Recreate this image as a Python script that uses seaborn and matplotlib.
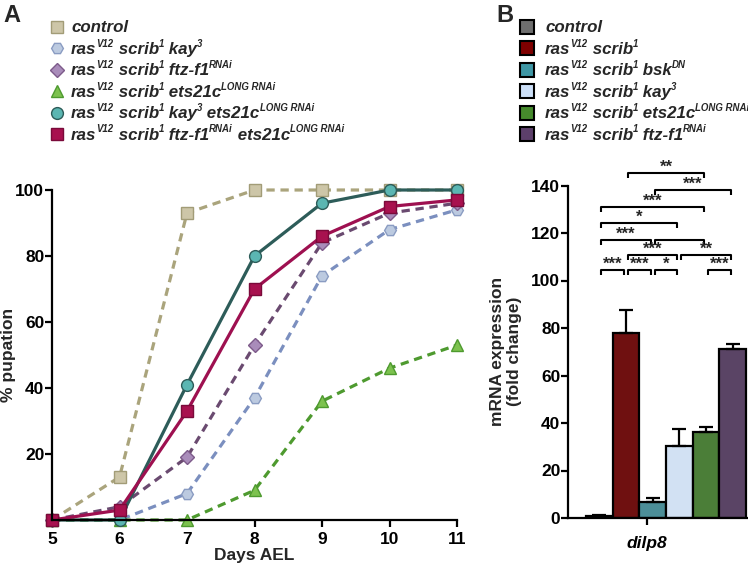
import re
import numpy as np
import pandas as pd
import matplotlib
matplotlib.use("Agg")
import matplotlib.pyplot as plt
from matplotlib.lines import Line2D
import seaborn as sns

# ── Data ───────────────────────────────────────────────────────────────────
days = [5, 6, 7, 8, 9, 10, 11]
pup_control = [0, 13, 93, 100, 100, 100, 100]
pup_kay = [0, 0, 8, 37, 74, 88, 94]
pup_ftz = [0, 4, 19, 53, 84, 93, 96]
pup_ets = [0, 0, 0, 9, 36, 46, 53]
pup_kay_ets = [0, 0, 41, 80, 96, 100, 100]
pup_ftz_ets = [0, 3, 33, 70, 86, 95, 97]

# ^{...} marks a superscript
labels_a = [
    "control",
    "ras^{V12} scrib^{1} kay^{3}",
    "ras^{V12} scrib^{1} ftz-f1^{RNAi}",
    "ras^{V12} scrib^{1} ets21c^{LONG RNAi}",
    "ras^{V12} scrib^{1} kay^{3} ets21c^{LONG RNAi}",
    "ras^{V12} scrib^{1} ftz-f1^{RNAi} ets21c^{LONG RNAi}",
]

genotypes_b = [
    "control",
    "ras^{V12} scrib^{1}",
    "ras^{V12} scrib^{1} bsk^{DN}",
    "ras^{V12} scrib^{1} kay^{3}",
    "ras^{V12} scrib^{1} ets21c^{LONG RNAi}",
    "ras^{V12} scrib^{1} ftz-f1^{RNAi}",
]
dilp8 = [0.9, 78.0, 6.9, 30.4, 36.1, 71.1]
dilp8_sem = [0.2, 9.6, 1.5, 6.9, 2.2, 2.1]

# (left bar, right bar, bracket height, stars)
sig_pairs = [
    (1, 4, 145.3, "**"),
    (2, 5, 138.1, "***"),
    (0, 4, 131.0, "***"),
    (0, 3, 124.2, "*"),
    (0, 2, 117.0, "***"),
    (2, 4, 117.0, ""),
    (1, 3, 110.7, "***"),
    (3, 5, 110.7, "**"),
    (0, 1, 104.4, "***"),
    (1, 2, 104.4, "***"),
    (2, 3, 104.4, "*"),
    (4, 5, 104.4, "***"),
]

# ── Styles ─────────────────────────────────────────────────────────────────
sns.set_style("ticks")
plt.rcParams["font.family"] = ["Liberation Sans", "DejaVu Sans"]
plt.rcParams["font.weight"] = "bold"
plt.rcParams["axes.labelweight"] = "bold"

dash = (0, (2.6, 1.8))
series_a = [
    (pup_control, dict(color="#aaa47c", ls=dash, marker="s", mfc="#cdc6a8", mec="#a29c77")),
    (pup_kay, dict(color="#7b8fbf", ls=dash, marker="H", mfc="#bccae0", mec="#8a9cc2")),
    (pup_ftz, dict(color="#6a4a70", ls=dash, marker="D", mfc="#a98cba", mec="#7d5a8a")),
    (pup_ets, dict(color="#4e9a2f", ls=dash, marker="^", mfc="#7dc24f", mec="#4e9a2f")),
    (pup_kay_ets, dict(color="#2d5c59", ls="-", marker="o", mfc="#5bb6b2", mec="#2d5c59")),
    (pup_ftz_ets, dict(color="#9e1050", ls="-", marker="s", mfc="#a8114f", mec="#7a0a3a")),
]
bar_colors = ["#6e6e6e", "#7f0000", "#3f97a5", "#cde0f8", "#468a2c", "#5c3f6a"]

fig = plt.figure(figsize=(7.48, 5.68), dpi=100)
W, H = 748, 568
renderer = fig.canvas.get_renderer()


def fig_box(l, t, r, b):
    return [l / W, 1 - b / H, (r - l) / W, (b - t) / H]


def rich_label(x_px, y_center_px, label, size=12.2):
    """Bold italic label with small raised superscripts, drawn piece by piece."""
    base = 1 - (y_center_px + 5.5) / H
    x = x_px
    for piece in re.split(r"(\^\{[^}]*\})", label):
        if not piece:
            continue
        sup = piece.startswith("^{")
        txt = piece[2:-1] if sup else piece
        fs = size * 0.57 if sup else size
        yy = base + (7.0 / H if sup else 0)
        t = fig.text(x / W, yy, txt, fontsize=fs, fontstyle="italic",
                     fontweight="bold", va="baseline", ha="left")
        bb = t.get_window_extent(renderer=renderer)
        x += bb.width


# ── Panel A: pupation curves ───────────────────────────────────────────────
ax_a = fig.add_axes(fig_box(52, 190, 457, 520))
for vals, st in series_a:
    df = pd.DataFrame({"day": days, "pct": vals})
    sns.lineplot(data=df, x="day", y="pct", ax=ax_a, color=st["color"],
                 linestyle=st["ls"], linewidth=2.3, marker=st["marker"],
                 markersize=8.5 if st["marker"] != "D" else 7.5,
                 markerfacecolor=st["mfc"], markeredgecolor=st["mec"],
                 markeredgewidth=1.0, clip_on=False)
ax_a.set_xlim(5, 11)
ax_a.set_ylim(0, 100)
ax_a.set_xticks(days)
ax_a.set_yticks([20, 40, 60, 80, 100])
ax_a.set_xlabel("Days AEL", fontsize=12.5, labelpad=1)
ax_a.set_ylabel("% pupation", fontsize=12.5)
ax_a.yaxis.set_label_coords(-0.088, 0.5)
sns.despine(ax=ax_a)

# legend A
for i, (lab, (vals, st)) in enumerate(zip(labels_a, series_a)):
    yc = 27 + i * 21.4
    fig.add_artist(Line2D([57 / W], [1 - yc / H], marker=st["marker"], linestyle="none",
                          markersize=8.5 if st["marker"] != "D" else 7.5,
                          mfc=st["mfc"], mec=st["mec"], mew=1.0,
                          transform=fig.transFigure))
    rich_label(71, yc, lab)

# ── Panel B: dilp8 expression ──────────────────────────────────────────────
ax_b = fig.add_axes(fig_box(568, 185.5, 748, 518))
pos = np.arange(len(dilp8))
df_b = pd.DataFrame({"g": [str(p) for p in pos], "v": dilp8})
sns.barplot(data=df_b, x="g", y="v", hue="g", palette=bar_colors, legend=False,
            width=1.0, edgecolor="black", linewidth=1.6, errorbar=None, ax=ax_b)
ax_b.errorbar(pos, dilp8, yerr=[np.zeros(len(dilp8)), dilp8_sem], fmt="none",
              ecolor="black", elinewidth=1.6, capsize=4.7, capthick=1.6, zorder=1)
ax_b.set_xlim(-1.17, 5.57)
ax_b.set_ylim(0, 140)
ax_b.set_yticks(np.arange(0, 141, 20))
ax_b.set_xticks([1.78])
ax_b.set_xticklabels(["dilp8"], fontstyle="italic")
ax_b.tick_params(axis="x", length=0, pad=8)
ax_b.set_xlabel("")
ax_b.set_ylabel("mRNA expression\n(fold change)", fontsize=12.5)
ax_b.yaxis.set_label_coords(-0.255, 0.5)
sns.despine(ax=ax_b)

d = 0.07
for i, j, yb, stars in sig_pairs:
    ax_b.plot([i + d, i + d, j - d, j - d], [yb - 2.2, yb, yb, yb - 2.2],
              color="black", lw=1.5, clip_on=False, solid_capstyle="butt")
    if stars:
        ax_b.text((i + j) / 2, yb - 0.6, stars, ha="center", va="bottom",
                  fontsize=12, fontweight="bold", clip_on=False)

# legend B
for i, (lab, col) in enumerate(zip(genotypes_b, bar_colors)):
    yc = 27 + i * 21.4
    fig.add_artist(Line2D([527 / W], [1 - yc / H], marker="s", linestyle="none",
                          markersize=10.5, mfc=col, mec="black", mew=1.5,
                          transform=fig.transFigure))
    rich_label(545, yc, lab)

for ax in (ax_a, ax_b):
    for s in ("left", "bottom"):
        ax.spines[s].set_linewidth(1.6)
        ax.spines[s].set_color("black")
    ax.tick_params(width=1.6, length=5, labelsize=12.5, colors="black")
    ax.tick_params(axis="y", pad=0.5)
    for lab in ax.get_yticklabels() + ax.get_xticklabels():
        lab.set_fontweight("bold")

fig.text(3 / W, 1 - 15 / H, "A", fontsize=17, fontweight="bold", va="center")
fig.text(496 / W, 1 - 15 / H, "B", fontsize=17, fontweight="bold", va="center")

fig.savefig("out.png", dpi=100)
